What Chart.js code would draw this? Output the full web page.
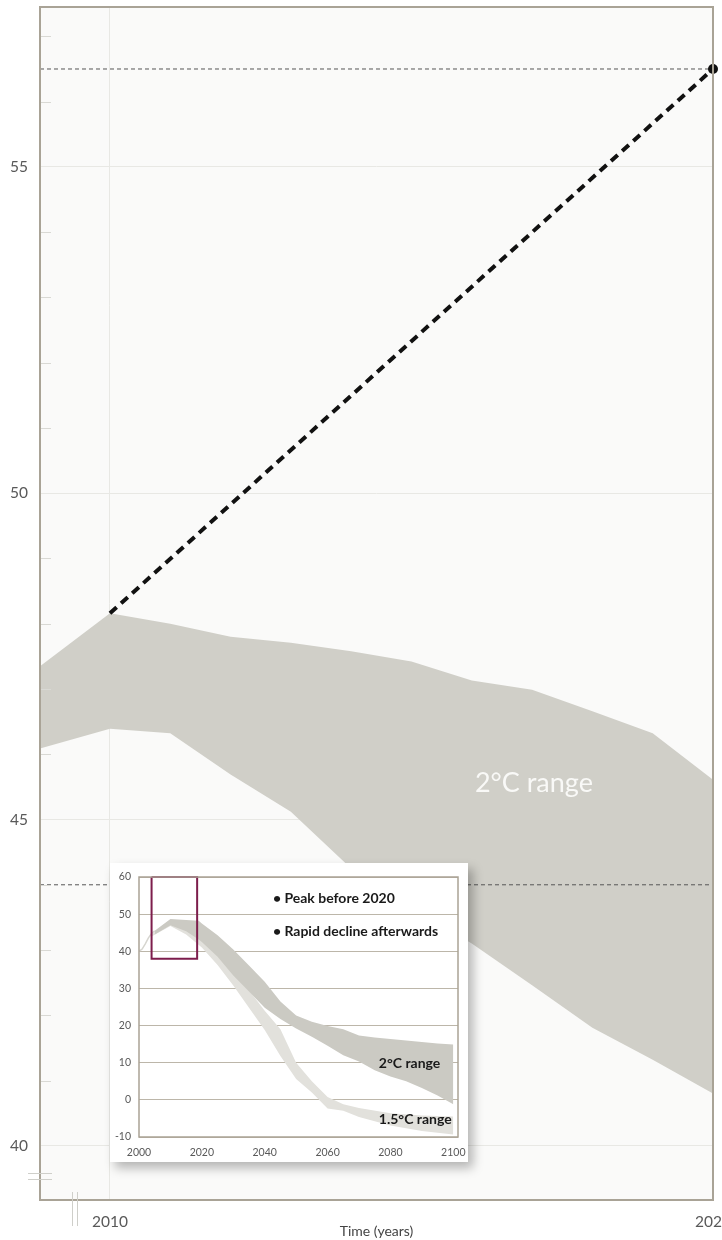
<!DOCTYPE html>
<html>
<head>
<meta charset="utf-8">
<script src="https://cdn.jsdelivr.net/npm/chart.js@4.4.1/dist/chart.umd.min.js"></script>
<style>
  html, body { margin: 0; padding: 0; background: #fff; }
  #wrap { position: relative; width: 722px; height: 1240px; overflow: hidden; }
  #mainChart { position: absolute; left: 0; top: 0; }
  #insetBox {
    position: absolute; left: 110px; top: 863px; width: 358px; height: 299px;
    background: #fff; box-shadow: 5px 6px 10px rgba(0, 0, 0, 0.28);
  }
</style>
</head>
<body>
<div id="wrap">
  <canvas id="mainChart" width="722" height="1240"></canvas>
  <div id="insetBox"><canvas id="insetChart" width="358" height="299"></canvas></div>
</div>
<script>
// main chart data (zoomed view 2009-2020)
const bandYears = [2008.84, 2010, 2011, 2012, 2013, 2014, 2015, 2016, 2017, 2018, 2019, 2020];
const bandUpper = [47.35, 48.16, 48.0, 47.8, 47.71, 47.58, 47.42, 47.13, 46.99, 46.66, 46.32, 45.61];
const bandLower = [46.09, 46.39, 46.32, 45.69, 45.12, 44.25, 43.65, 43.1, 42.46, 41.81, 41.32, 40.8];
const trendYears = [2010, 2020];
const trendValues = [48.16, 56.5];
const refLevels = [56.5, 44];
const mainXTicks = [2010, 2020];
const mainYLabels = [40, 45, 50, 55];

// inset chart data (2000-2100)
const histYears = [2000, 2001, 2002, 2003, 2004, 2005];
const histValues = [40, 40.6, 42, 43.6, 44.8, 45.5];
const twoYears = [2005, 2010, 2015, 2019, 2020, 2025, 2030, 2035, 2040, 2045, 2050, 2055, 2060, 2065, 2070, 2075, 2080, 2085, 2090, 2095, 2100];
const twoUpper = [45.5, 48.7, 48.4, 48.2, 47.5, 44.3, 40.5, 36.2, 31.8, 26.5, 22.7, 21.0, 19.9, 19.0, 17.3, 16.8, 16.4, 16.0, 15.6, 15.2, 14.9];
const twoLower = [44.5, 47.0, 45.4, 43.2, 42.5, 38.5, 33.5, 29.2, 24.8, 21.8, 19.2, 17.0, 14.6, 12.0, 10.3, 8.0, 6.3, 5.0, 3.2, 1.2, -1.2];
const lowYears = [2004, 2010, 2015, 2020, 2025, 2030, 2035, 2040, 2045, 2050, 2055, 2060, 2065, 2070, 2080, 2090, 2100];
const lowUpper = [44.5, 48.5, 47.0, 44.0, 39.5, 34.5, 29.5, 24.0, 19.0, 10.0, 5.0, 0.8, -1.2, -2.2, -3.6, -4.2, -4.5];
const lowLower = [44.0, 46.8, 44.5, 41.0, 36.3, 30.8, 24.8, 18.8, 11.8, 5.6, 2.0, -2.3, -2.9, -4.6, -6.9, -8.4, -9.3];
const boxYears = [2004, 2018.5, 2018.5, 2004, 2004];
const boxValues = [60, 60, 38, 38, 60];
const insetXTicks = [2000, 2020, 2040, 2060, 2080, 2100];
const insetYTicks = [-10, 0, 10, 20, 30, 40, 50, 60];

const FONT = 'Lato, "Open Sans", sans-serif';
const pts = (xs, ys) => xs.map((x, i) => ({ x: x, y: ys[i] }));

const mainPlugin = {
    id: 'mainDecor',
    beforeDraw(chart) {
        const a = chart.chartArea, c = chart.ctx;
        c.save();
        c.fillStyle = '#fafaf9';
        c.fillRect(a.left, a.top, a.right - a.left, a.bottom - a.top);
        c.restore();
    },
    afterDraw(chart) {
        const a = chart.chartArea, c = chart.ctx, x = chart.scales.x, y = chart.scales.y;
        c.save();
        // minor ticks inside the plot
        c.strokeStyle = '#d9d9d4';
        c.lineWidth = 1;
        y.ticks.forEach(t => {
            if (t.value % 5 === 0) return;
            const py = Math.round(y.getPixelForValue(t.value)) + 0.5;
            c.beginPath(); c.moveTo(a.left, py); c.lineTo(a.left + 11, py); c.stroke();
        });
        // frame
        c.strokeStyle = '#a9a396';
        c.lineWidth = 2;
        c.strokeRect(a.left, a.top, a.right - a.left, a.bottom - a.top);
        // axis break marks
        c.strokeStyle = '#cfcfca';
        c.lineWidth = 1;
        [-27, -21].forEach(d => {
            c.beginPath(); c.moveTo(a.left - 12, a.bottom + d + 0.5); c.lineTo(a.left + 12, a.bottom + d + 0.5); c.stroke();
        });
        [32, 37].forEach(d => {
            c.beginPath(); c.moveTo(a.left + d + 0.5, a.bottom - 8); c.lineTo(a.left + d + 0.5, a.bottom + 26); c.stroke();
        });
        // band label
        c.fillStyle = '#f9f9f7';
        c.font = '27px ' + FONT;
        c.textAlign = 'center';
        c.textBaseline = 'middle';
        c.fillText('2°C range', x.getPixelForValue(2017.03), y.getPixelForValue(45.55));
        c.restore();
    }
};

new Chart(document.getElementById('mainChart'), {
    type: 'line',
    data: {
        datasets: [
            { data: pts(trendYears, trendValues), borderColor: '#111', borderWidth: 4, borderDash: [9, 6],
              pointRadius: [0, 5], pointBackgroundColor: '#111', pointBorderWidth: 0, clip: false, order: 1 },
            ...refLevels.map(v => ({ data: pts([2008.84, 2020], [v, v]), borderColor: '#555', borderWidth: 1,
              borderDash: [4, 3], pointRadius: 0, order: 2 })),
            { data: pts(bandYears, bandLower), borderWidth: 0, pointRadius: 0, order: 4 },
            { data: pts(bandYears, bandUpper), borderWidth: 0, pointRadius: 0, fill: '-1',
              backgroundColor: '#d0cfc8', order: 3 }
        ]
    },
    options: {
        responsive: false,
        animation: false,
        events: [],
        layout: { padding: { top: 7, right: 9, left: 0, bottom: 0 } },
        plugins: { legend: { display: false }, tooltip: { enabled: false } },
        scales: {
            x: {
                type: 'linear', min: 2008.84, max: 2020,
                afterBuildTicks: s => { s.ticks = mainXTicks.map(v => ({ value: v })); },
                afterFit: s => { s.height = 40; s.paddingLeft = 0; s.paddingRight = 0; },
                grid: { color: '#e8e8e4', drawTicks: false },
                border: { display: false },
                ticks: { padding: 13, color: '#595959', font: { family: FONT, size: 15.5 }, maxRotation: 0,
                         callback: v => String(v) },
                title: { display: true, text: 'Time (years)', color: '#444', padding: 0,
                         font: { family: FONT, size: 14 } }
            },
            y: {
                type: 'linear', min: 39.17, max: 57.45,
                afterBuildTicks: s => {
                    const t = [];
                    for (let v = Math.ceil(s.min); v <= Math.floor(s.max); v++) t.push({ value: v });
                    s.ticks = t;
                },
                afterFit: s => { s.width = 40; s.paddingTop = 0; s.paddingBottom = 0; },
                grid: { color: c => (c.tick && mainYLabels.includes(c.tick.value)) ? '#e8e8e4' : 'transparent', drawTicks: false },
                border: { display: false },
                ticks: { padding: 12, color: '#595959', font: { family: FONT, size: 15.5 },
                         callback: v => mainYLabels.includes(v) ? String(v) : '' }
            }
        }
    },
    plugins: [mainPlugin]
});

const insetPlugin = {
    id: 'insetDecor',
    afterDraw(chart) {
        const a = chart.chartArea, c = chart.ctx, x = chart.scales.x, y = chart.scales.y;
        c.save();
        c.strokeStyle = '#aaa395';
        c.lineWidth = 1.5;
        c.strokeRect(a.left, a.top, a.right - a.left, a.bottom - a.top);
        c.fillStyle = '#1a1a1a';
        c.font = 'bold 14px ' + FONT;
        c.textAlign = 'left';
        c.textBaseline = 'middle';
        c.fillText('\u2022 Peak before 2020', x.getPixelForValue(2042.6), y.getPixelForValue(54.3));
        c.fillText('\u2022 Rapid decline afterwards', x.getPixelForValue(2042.6), y.getPixelForValue(45.2));
        c.fillText('2°C range', x.getPixelForValue(2076.3), y.getPixelForValue(9.9));
        c.fillText('1.5°C range', x.getPixelForValue(2076.3), y.getPixelForValue(-5.2));
        c.restore();
    }
};

new Chart(document.getElementById('insetChart'), {
    type: 'line',
    data: {
        datasets: [
            { data: pts(boxYears, boxValues), borderColor: '#7d1d4c', borderWidth: 2, pointRadius: 0,
              tension: 0, clip: false, order: 1 },
            { data: pts(twoYears, twoLower), borderWidth: 0, pointRadius: 0, order: 3 },
            { data: pts(twoYears, twoUpper), borderWidth: 0, pointRadius: 0, fill: '-1',
              backgroundColor: '#cbcac3', order: 2 },
            { data: pts(lowYears, lowLower), borderWidth: 0, pointRadius: 0, order: 5 },
            { data: pts(lowYears, lowUpper), borderWidth: 0, pointRadius: 0, fill: '-1',
              backgroundColor: '#e2e1dc', order: 4 },
            { data: pts(histYears, histValues), borderColor: '#d6d5cf', borderWidth: 1.5, pointRadius: 0, order: 6 }
        ]
    },
    options: {
        responsive: false,
        animation: false,
        events: [],
        layout: { padding: { top: 14, right: 10, left: 0, bottom: 0 } },
        plugins: { legend: { display: false }, tooltip: { enabled: false } },
        scales: {
            x: {
                type: 'linear', min: 2000, max: 2101.5,
                afterBuildTicks: s => { s.ticks = insetXTicks.map(v => ({ value: v })); },
                afterFit: s => { s.height = 25; s.paddingLeft = 0; s.paddingRight = 0; },
                grid: { display: false, drawTicks: false },
                border: { display: false },
                ticks: { padding: 9, color: '#595959', font: { family: FONT, size: 10.5 }, maxRotation: 0,
                         callback: v => String(v) }
            },
            y: {
                type: 'linear', min: -10, max: 60,
                afterBuildTicks: s => { s.ticks = insetYTicks.map(v => ({ value: v })); },
                afterFit: s => { s.width = 29; s.paddingTop = 0; s.paddingBottom = 0; },
                grid: { color: '#bcb6a9', drawTicks: false },
                border: { display: false },
                ticks: { padding: 8, color: '#595959', font: { family: FONT, size: 10.5 } }
            }
        }
    },
    plugins: [insetPlugin]
});
</script>
</body>
</html>
